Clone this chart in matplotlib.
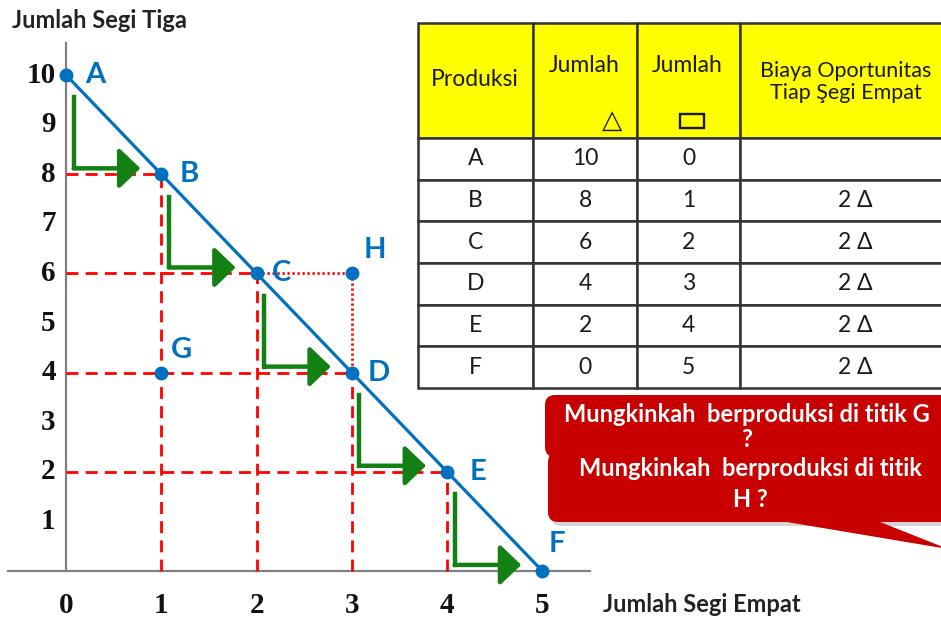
import matplotlib.pyplot as plt
from matplotlib.patches import FancyBboxPatch, Polygon, Rectangle

# --- data ---
titik = ['A', 'B', 'C', 'D', 'E', 'F']
segi_empat = [0, 1, 2, 3, 4, 5]
segi_tiga = [10, 8, 6, 4, 2, 0]
titik_lain = ['G', 'H']
lain_x = [1, 3]
lain_y = [4, 6]
biaya = ['', '2 Δ', '2 Δ', '2 Δ', '2 Δ', '2 Δ']
y_ticks = [1, 2, 3, 4, 5, 6, 7, 8, 9, 10]
x_ticks = [0, 1, 2, 3, 4, 5]
kolom = ['Produksi', 'Jumlah', 'Jumlah', 'Biaya Oportunitas\nTiap Şegi Empat']
tanya_g = 'Mungkinkah  berproduksi di titik G\n?'
tanya_h = 'Mungkinkah  berproduksi di titik\nH ?'

# label offsets (style only)
off_label = {'A': (0.2, 0), 'B': (0.19, 0), 'C': (0.16, 0), 'D': (0.17, 0),
             'E': (0.24, 0), 'F': (0.07, 0.55), 'G': (0.1, 0.45), 'H': (0.12, 0.47)}

biru = '#0070C0'
merah = '#FF0000'
hijau = '#138013'
W, H = 941, 619

fig = plt.figure(figsize=(W / 100, H / 100), dpi=100)
ax = fig.add_axes([0, 0, 1, 1])
ax.set_xlim(-0.695, 9.189)
ax.set_ylim(-0.971, 11.516)
ax.axis('off')


def inch(x, y):
    # pixel (from top-left) -> inches for fig.dpi_scale_trans
    return x / 100, (H - y) / 100


# axes lines
ax.plot([-0.61, 5.5], [0, 0], color='#808080', lw=1.6, zorder=1)
ax.plot([0, 0], [0, 10.65], color='#808080', lw=1.6, zorder=1)

# red dashed guides
for x, y in zip(segi_empat[1:-1], segi_tiga[1:-1]):
    ax.plot([0, x], [y, y], color=merah, lw=2, dashes=(4.3, 2.6), zorder=2)
    ax.plot([x, x], [0, y], color=merah, lw=2, dashes=(4.3, 2.6), zorder=2)

# dotted C -> H -> D
ax.plot([segi_empat[2], lain_x[1], lain_x[1]], [segi_tiga[2], lain_y[1], segi_tiga[3]],
        color=merah, lw=2, dashes=(0.8, 1.0), zorder=2)

# green step arrows
for i in range(len(segi_empat) - 1):
    x0 = segi_empat[i] + 0.08
    ytop = segi_tiga[i] - 0.45
    ybot = segi_tiga[i + 1] + 0.12
    tip = segi_empat[i + 1] - 0.22
    ax.plot([x0, x0], [ytop, ybot], color=hijau, lw=3.2, solid_capstyle='projecting', zorder=2)
    ax.annotate('', xy=(tip, ybot), xytext=(x0, ybot),
                arrowprops=dict(arrowstyle='-|>,head_length=0.65,head_width=0.62',
                                mutation_scale=20, lw=3.2, color=hijau,
                                shrinkA=0, shrinkB=0), zorder=2)

# PPF line and points
ax.plot(segi_empat, segi_tiga, color=biru, lw=2.3, zorder=3)
ax.plot(segi_empat, segi_tiga, 'o', color=biru, ms=9, zorder=4)
ax.plot(lain_x, lain_y, 'o', color=biru, ms=9, zorder=4)

for t, x, y in zip(titik + titik_lain, segi_empat + lain_x, segi_tiga + lain_y):
    dx, dy = off_label[t]
    ax.text(x + dx, y + dy, t, color=biru, fontsize=21, fontweight='bold',
            family='Lato', ha='left', va='center', zorder=5)

# tick labels
for v in y_ticks:
    ax.text(-0.11, v, str(v), ha='right', va='center', family='Liberation Serif',
            fontweight='bold', fontsize=21, color='#111111')
for v in x_ticks:
    ax.text(v, -0.69, str(v), ha='center', va='center', family='Liberation Serif',
            fontweight='bold', fontsize=21, color='#111111')

ax.text(12 / W, 1 - 20 / H, 'Jumlah Segi Tiga', transform=ax.transAxes, ha='left',
        va='center', family='Lato', fontweight='bold', fontsize=17, color='#222222')
ax.text(603 / W, 1 - 604 / H, 'Jumlah Segi Empat', transform=ax.transAxes, ha='left',
        va='center', family='Lato', fontweight='bold', fontsize=17, color='#222222')

# --- table ---
isi = [['', '', '', '']] + [[t, str(a), str(b), c]
                            for t, a, b, c in zip(titik, segi_tiga, segi_empat, biaya)]
lebar = [115, 104, 103, 230]
tabel = ax.table(cellText=isi, colWidths=[w / sum(lebar) for w in lebar],
                 cellLoc='center',
                 bbox=[418 / W, 1 - 388 / H, sum(lebar) / W, 365 / H])
tabel.auto_set_font_size(False)
tabel.set_fontsize(16.5)
for (r, c), cell in tabel.get_celld().items():
    cell.set_height(115 if r == 0 else 41.6)
    cell.set_edgecolor('#333333')
    cell.set_linewidth(1.8)
    cell.get_text().set_fontfamily('Lato')
    cell.get_text().set_color('#1a1a1a')
    if r == 0:
        cell.set_facecolor('#FFFF00')

tx = lambda p: p / W
ty = lambda p: 1 - p / H
ax.text(tx(475), ty(80), kolom[0], transform=ax.transAxes, ha='center', va='center',
        family='Lato', fontsize=16.5, color='#1a1a1a')
ax.text(tx(584), ty(66), kolom[1], transform=ax.transAxes, ha='center', va='center',
        family='Lato', fontsize=16.5, color='#1a1a1a')
ax.text(tx(687), ty(66), kolom[2], transform=ax.transAxes, ha='center', va='center',
        family='Lato', fontsize=16.5, color='#1a1a1a')
ax.text(tx(612), ty(121), '△', transform=ax.transAxes, ha='center', va='center',
        family='DejaVu Sans', fontsize=19, color='#1a1a1a')
ax.add_patch(Rectangle(inch(680, 128), 0.24, 0.14, transform=fig.dpi_scale_trans,
                       fill=False, edgecolor='#1a1a1a', lw=1.7))
ax.text(tx(846), ty(82), kolom[3], transform=ax.transAxes, ha='center', va='center',
        family='Lato', fontsize=15.5, color='#1a1a1a', linespacing=1.15)

# --- callouts ---
merah_box = '#C80000'
for (x0, y0, x1, y1), teks, tz, ymid, spasi in [((545, 395, 965, 457), tanya_g, 6, 427, 1.15),
                                                ((548, 452, 965, 522), tanya_h, 8, 484, 1.4)]:
    bayangan = FancyBboxPatch(inch(x0 + 3, y1 + 4), (x1 - x0) / 100, (y1 - y0) / 100,
                              boxstyle='round,pad=0,rounding_size=0.1',
                              transform=fig.dpi_scale_trans, facecolor='#888888',
                              edgecolor='none', alpha=0.35, zorder=tz)
    kotak = FancyBboxPatch(inch(x0, y1), (x1 - x0) / 100, (y1 - y0) / 100,
                           boxstyle='round,pad=0,rounding_size=0.1',
                           transform=fig.dpi_scale_trans, facecolor=merah_box,
                           edgecolor='none', zorder=tz + 0.5)
    ax.add_patch(bayangan)
    ax.add_patch(kotak)
    ax.text(((x0 + 747 - 545) / 100), (H - ymid) / 100, teks,
            transform=fig.dpi_scale_trans, ha='center', va='center', family='Lato',
            fontweight='bold', fontsize=17, color='white', linespacing=spasi,
            zorder=tz + 1)

ekor = Polygon([inch(775, 520), inch(865, 516), inch(948, 549)], closed=True,
               transform=fig.dpi_scale_trans, facecolor=merah_box, edgecolor='none',
               zorder=8.5)
ax.add_patch(ekor)

plt.savefig('out.png', dpi=100)
